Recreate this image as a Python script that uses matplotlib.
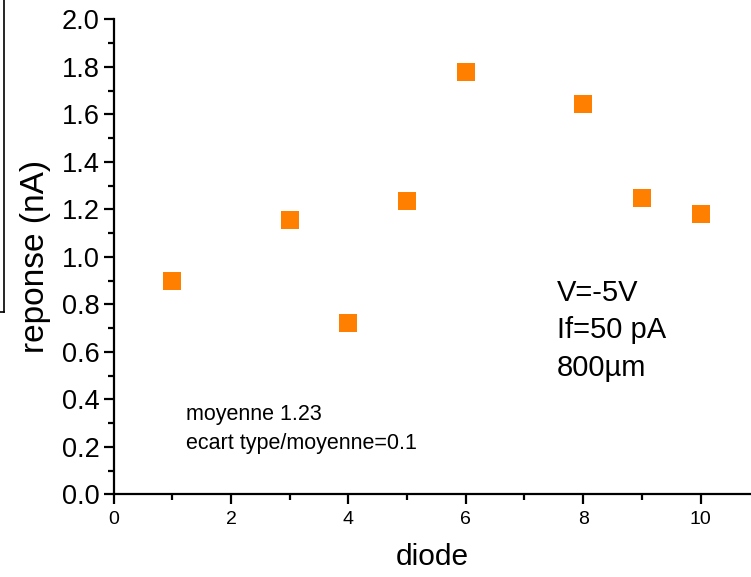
import matplotlib
matplotlib.use("Agg")
import matplotlib.pyplot as plt
from matplotlib.lines import Line2D
from matplotlib.ticker import MultipleLocator

plt.rcParams['font.family'] = ['Liberation Sans', 'DejaVu Sans']

diode = [1, 3, 4, 5, 6, 8, 9, 10]
reponse = [0.90, 1.155, 0.72, 1.235, 1.78, 1.643, 1.247, 1.18]

fig = plt.figure(figsize=(7.51, 5.77), dpi=100)
ax = fig.add_axes([0.1514, 0.1433, 0.8486, 0.8233])

ax.plot(diode, reponse, 's', color='#ff8000', markersize=12.5, markeredgewidth=0)

ax.set_xlim(0, 10.86)
ax.set_ylim(0, 2.0)
ax.xaxis.set_major_locator(MultipleLocator(2))
ax.xaxis.set_minor_locator(MultipleLocator(1))
ax.yaxis.set_major_locator(MultipleLocator(0.2))
ax.yaxis.set_minor_locator(MultipleLocator(0.1))
ax.yaxis.set_major_formatter(matplotlib.ticker.FormatStrFormatter('%.1f'))

for s in ['top', 'right']:
    ax.spines[s].set_visible(False)
for s in ['left', 'bottom']:
    ax.spines[s].set_linewidth(1.6)

ax.tick_params(which='major', direction='out', length=7, width=1.6)
ax.tick_params(which='minor', direction='out', length=4, width=1.6)
ax.tick_params(axis='y', labelsize=19.5, pad=3)
ax.tick_params(axis='x', labelsize=14, pad=5)

ax.set_xlabel('diode', fontsize=21.5, labelpad=11)
ax.set_ylabel('reponse (nA)', fontsize=24, labelpad=8)

ax.text(1.23, 0.338, 'moyenne 1.23', fontsize=15.5, va='center')
ax.text(1.23, 0.215, 'ecart type/moyenne=0.1', fontsize=15.5, va='center')
ax.text(7.55, 0.848, 'V=-5V', fontsize=21, va='center')
ax.text(7.55, 0.69, 'If=50 pA', fontsize=21, va='center')
ax.text(7.55, 0.53, '800µm', fontsize=21, va='center')

# leftover frame edge at the left of the picture
fig.add_artist(Line2D([4/751, 4/751], [1.0, 1 - 312/577], color='black', lw=1.2))
fig.add_artist(Line2D([0, 4/751], [1 - 312/577, 1 - 312/577], color='black', lw=1.2))

fig.savefig('out.png', dpi=100)
